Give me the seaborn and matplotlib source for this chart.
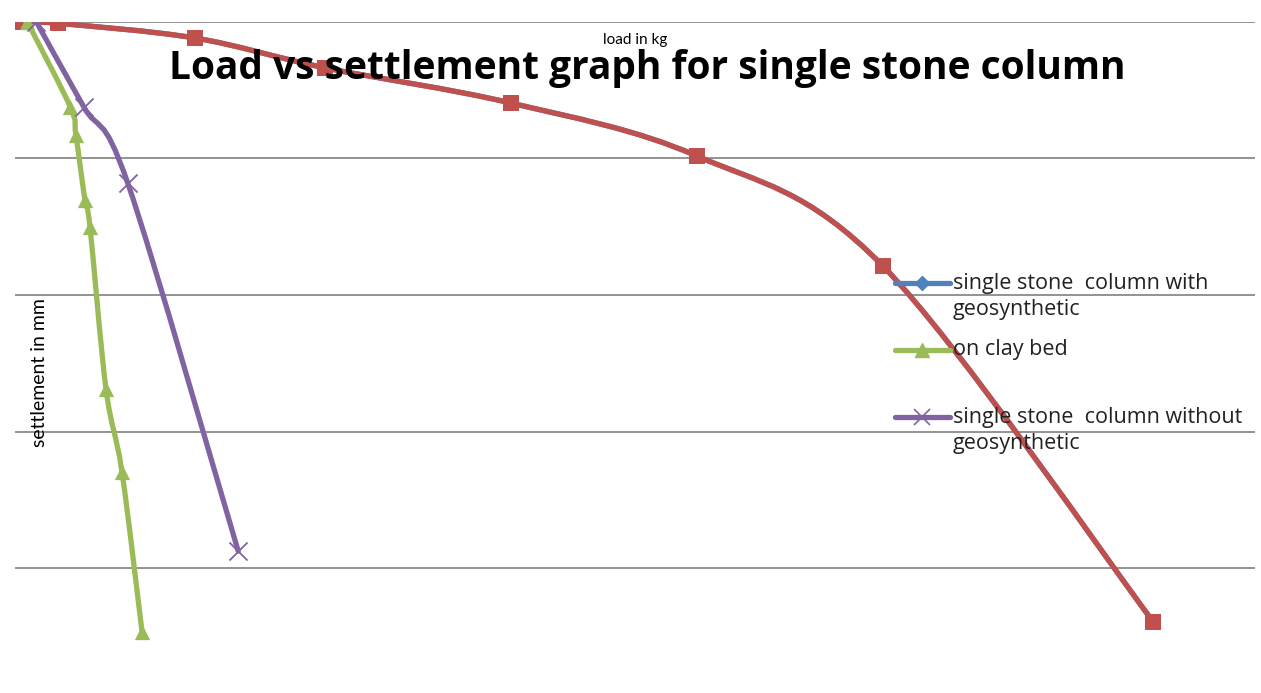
import matplotlib
matplotlib.use("Agg")
import matplotlib.pyplot as plt
from matplotlib.path import Path
from matplotlib.patches import PathPatch
from matplotlib.lines import Line2D
import seaborn as sns
import numpy as np
import pandas as pd

# Load (kg) and settlement (mm) readings for each test
with_geo_load = [0, 33, 155, 270, 435, 600, 765, 1005]
with_geo_settle = [0, 0.05, 0.59, 1.68, 2.97, 4.91, 8.94, 21.98]

loaded_load = [0, 33, 155, 270, 435, 600, 765, 1005]
loaded_settle = [0, 0.05, 0.59, 1.68, 2.97, 4.91, 8.94, 21.98]

clay_load = [6, 44, 49, 57, 61.5, 75.7, 89.9, 107.7]
clay_settle = [0, 3.11, 4.14, 6.52, 7.51, 13.44, 16.48, 22.34]

without_geo_load = [14, 56, 95, 193]
without_geo_settle = [0, 3.11, 5.9, 19.38]

grid_levels = [0, 5, 10, 15, 20]

legend_labels = [
    ["single stone  column with", "geosynthetic"],
    ["on clay bed"],
    ["single stone  column without", "geosynthetic"],
]

BLUE = "#4F81BD"
RED = "#C0504D"
GREEN = "#9BBB59"
PURPLE = "#8064A2"

sns.set_theme(style="white")
plt.rcParams["font.family"] = ["Open Sans", "DejaVu Sans"]

W, H = 1261, 693
fig = plt.figure(figsize=(W / 100, H / 100), dpi=100)
ax = fig.add_axes([0.0119, 0.0188, 0.9833, 0.9495])
ax.set_xlim(-5, 1095)
ax.set_ylim(24.1, 0)
for s in ax.spines.values():
    s.set_visible(False)
ax.set_xticks([])
ax.set_yticks(grid_levels)
ax.set_yticklabels([])
ax.tick_params(length=0)
ax.grid(False)
for g in grid_levels:
    ax.axhline(g, color="#8a8a8a", lw=1.3, zorder=1)


def smooth_path(xs, ys, t=1.0 / 6):
    """Cubic Bezier path through the points (Catmull-Rom style smoothing)."""
    pts = np.column_stack([xs, ys]).astype(float)
    n = len(pts)
    verts = [pts[0]]
    codes = [Path.MOVETO]
    for i in range(n - 1):
        p_prev = pts[i - 1] if i > 0 else pts[i]
        p0 = pts[i]
        p1 = pts[i + 1]
        p_next = pts[i + 2] if i + 2 < n else pts[i + 1]
        c1 = p0 + (p1 - p_prev) * t
        c2 = p1 - (p_next - p0) * t
        verts += [c1, c2, p1]
        codes += [Path.CURVE4] * 3
    return Path(verts, codes)


series = [
    (with_geo_load, with_geo_settle, BLUE, "D", 8, 1.0),
    (loaded_load, loaded_settle, RED, "s", 11.5, 1.0),
    (clay_load, clay_settle, GREEN, "^", 11, 1.0),
    (without_geo_load, without_geo_settle, PURPLE, "x", 13, 1.3),
]

for z, (xs, ys, col, mk, ms, mew) in enumerate(series):
    ax.add_patch(PathPatch(smooth_path(xs, ys), fill=False, edgecolor=col,
                           lw=3.8, capstyle="round", zorder=3 + 2 * z))
    df = pd.DataFrame({"load": xs, "settlement": ys})
    if mk == "x":
        sns.scatterplot(data=df, x="load", y="settlement", marker="x", s=ms ** 2,
                        color=col, linewidth=mew, ax=ax, zorder=4 + 2 * z, legend=False)
    else:
        sns.scatterplot(data=df, x="load", y="settlement", marker=mk, s=ms ** 2,
                        color=col, edgecolor=col, linewidth=0, ax=ax,
                        zorder=4 + 2 * z, legend=False)
ax.set_xlabel("")
ax.set_ylabel("")

# Legend, laid out entry by entry (handle aligned with the first text line)
legend_styles = [
    dict(color=BLUE, marker="D", ms=7, mec=BLUE, mew=1),
    dict(color=GREEN, marker="^", ms=10, mec=GREEN, mew=1),
    dict(color=PURPLE, marker="x", ms=12, mew=1.2),
]
entry_top = 283
entry_step = 67
line_step = 27
for i, (lines, style) in enumerate(zip(legend_labels, legend_styles)):
    y0 = entry_top + i * entry_step
    fy = 1 - y0 / H
    fig.add_artist(Line2D([895 / W, 950 / W], [fy, fy], lw=3.8,
                          color=style["color"], transform=fig.transFigure,
                          zorder=25))
    fig.add_artist(Line2D([922 / W], [fy], lw=0, transform=fig.transFigure,
                          zorder=26, **style))
    for j, txt in enumerate(lines):
        fig.text(953 / W, 1 - (y0 + j * line_step) / H, txt, ha="left",
                 va="center", fontsize=15.5, color="#222222", zorder=30)

fig.text(0.513, 1 - 79 / H, "Load vs settlement graph for single stone column",
         ha="center", va="baseline", fontsize=28, fontweight="bold",
         color="black", zorder=30)
fig.text(635 / W, 1 - 40 / H, "load in kg", ha="center", va="center",
         fontsize=11, color="black", zorder=30, family=["Lato", "DejaVu Sans"])
fig.text(40 / W, 1 - 373 / H, "settlement in mm", ha="center", va="center",
         rotation=90, fontsize=14, color="black", zorder=30,
         family=["Lato", "DejaVu Sans"])

fig.savefig("out.png", dpi=100, facecolor="white")
